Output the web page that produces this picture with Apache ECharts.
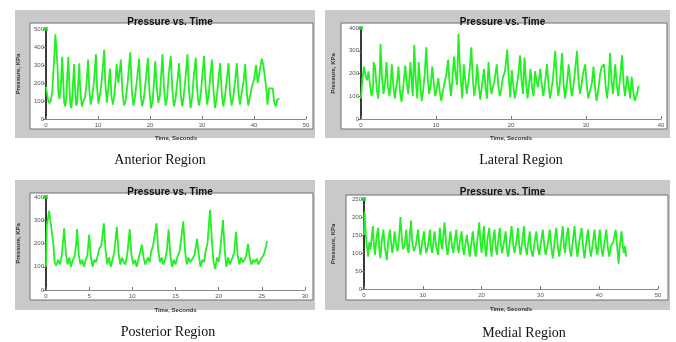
<!DOCTYPE html>
<html><head><meta charset="utf-8">
<script src="https://cdn.jsdelivr.net/npm/echarts@6/dist/echarts.min.js"></script>
<style>html,body{margin:0;padding:0;background:#fff}#c{width:676px;height:342px}</style>
</head><body><div id="c"></div>
<script>
// ---------- DATA ----------
const panelTitles = ['Pressure vs. Time','Pressure vs. Time','Pressure vs. Time','Pressure vs. Time'];
const regionNames = ['Anterior Region','Lateral Region','Posterior Region','Medial Region'];
const xAxisName = 'Time, Seconds';
const yAxisName = 'Pressure, KPa';
const xMax = [50, 40, 30, 50];
const xStep = [10, 10, 5, 10];
const yMax = [500, 400, 400, 250];
const yStep = [100, 100, 100, 50];
const topMarker = [[0,500],[0,400],[0,400],[0,250]];

const anterior = [[0,180],[0.3,120],[0.6,88],[0.9,100],[1.2,150],[1.5,300],[1.8,470],[2.0,480],[2.2,300],[2.4,140],[2.6,110],[2.9,200],[3.1,345],[3.3,220],[3.5,90],[3.7,70],[3.9,110],[4.1,250],[4.3,345],[4.5,180],[4.7,80],[4.9,60],[5.1,150],[5.4,305],[5.6,160],[5.8,75],[6.0,90],[6.2,200],[6.4,310],[6.6,150],[6.9,70],[7.2,100],[7.5,120],[7.8,200],[8.1,330],[8.3,170],[8.6,80],[8.9,130],[9.2,200],[9.6,360],[9.8,180],[10.1,85],[10.4,140],[10.7,210],[11.2,385],[11.4,200],[11.7,90],[12.0,180],[12.3,280],[12.6,120],[12.9,80],[13.2,150],[13.6,305],[13.9,200],[14.1,250],[14.4,330],[14.7,150],[15.0,75],[15.3,100],[15.7,200],[16.2,370],[16.5,160],[16.8,75],[17.1,120],[17.5,220],[17.9,335],[18.2,140],[18.5,70],[18.8,110],[19.2,220],[19.6,340],[19.9,150],[20.2,60],[20.5,100],[20.8,220],[21.0,320],[21.3,180],[21.6,90],[21.9,130],[22.4,360],[22.7,170],[23.0,75],[23.3,120],[23.6,250],[24.0,350],[24.3,160],[24.6,70],[24.9,110],[25.3,220],[25.6,310],[25.9,140],[26.2,70],[26.5,130],[26.9,250],[27.2,360],[27.5,160],[27.8,60],[28.1,120],[28.4,230],[28.8,340],[29.1,150],[29.4,75],[29.7,120],[30.1,250],[30.4,350],[30.7,170],[31.0,80],[31.3,140],[31.6,240],[31.9,330],[32.2,160],[32.5,60],[32.8,110],[33.2,230],[33.5,310],[33.8,140],[34.1,70],[34.4,120],[34.8,230],[35.1,310],[35.4,140],[35.7,75],[36.0,120],[36.4,220],[36.7,310],[37.0,150],[37.3,80],[37.6,140],[38.0,210],[38.3,305],[38.6,150],[38.9,75],[39.2,120],[39.6,180],[40.0,220],[40.4,300],[40.7,200],[41.0,210],[41.5,335],[41.8,300],[42.1,290],[42.4,160],[42.6,80],[42.9,170],[43.2,160],[43.6,170],[43.9,90],[44.2,70],[44.5,110],[44.9,110]];

const lateral = [[0,90],[0.2,180],[0.4,230],[0.6,190],[0.8,170],[1.0,210],[1.2,150],[1.4,100],[1.6,140],[1.7,250],[1.9,220],[2.1,130],[2.3,90],[2.5,200],[2.6,330],[2.8,180],[3.0,110],[3.2,160],[3.4,250],[3.6,140],[3.8,100],[4.0,180],[4.1,240],[4.3,150],[4.5,90],[4.7,140],[4.8,160],[5.0,230],[5.2,120],[5.4,75],[5.6,130],[5.9,235],[6.1,160],[6.3,110],[6.6,250],[6.8,140],[6.9,100],[7.1,325],[7.3,170],[7.5,90],[7.7,250],[7.9,150],[8.1,80],[8.3,130],[8.5,200],[8.7,315],[8.9,180],[9.1,110],[9.3,150],[9.5,230],[9.7,160],[9.9,100],[10.1,130],[10.3,180],[10.5,120],[10.7,80],[10.9,120],[11.2,170],[11.4,200],[11.6,260],[11.8,160],[12.0,100],[12.2,180],[12.4,275],[12.6,200],[12.8,150],[13.0,375],[13.2,220],[13.4,130],[13.5,90],[13.7,240],[13.9,170],[14.1,110],[14.3,160],[14.5,220],[14.7,315],[14.9,180],[15.1,100],[15.3,150],[15.5,240],[15.7,150],[15.9,85],[16.1,140],[16.4,220],[16.6,140],[16.8,90],[17.0,250],[17.2,160],[17.4,110],[17.6,140],[17.8,170],[18.1,240],[18.3,150],[18.5,100],[18.7,130],[18.9,180],[19.2,210],[19.5,305],[19.7,180],[19.9,95],[20.1,215],[20.3,150],[20.5,90],[20.7,130],[21.0,200],[21.2,280],[21.4,170],[21.6,110],[21.8,270],[22.0,160],[22.2,90],[22.4,150],[22.6,220],[22.8,140],[23.0,100],[23.2,210],[23.4,170],[23.6,140],[23.9,220],[24.1,150],[24.3,100],[24.5,150],[24.8,240],[25.0,150],[25.2,90],[25.4,130],[25.6,180],[25.9,300],[26.1,170],[26.3,100],[26.5,150],[26.8,290],[27.0,160],[27.2,90],[27.4,140],[27.7,240],[27.9,160],[28.1,100],[28.3,140],[28.5,200],[28.8,300],[29.0,170],[29.2,110],[29.4,150],[29.6,200],[29.9,240],[30.1,150],[30.3,90],[30.5,120],[30.8,160],[31.0,230],[31.2,140],[31.4,80],[31.6,120],[31.9,200],[32.1,230],[32.4,240],[32.6,150],[32.8,90],[33.0,150],[33.2,290],[33.4,170],[33.6,110],[33.9,240],[34.1,150],[34.3,100],[34.6,200],[34.8,280],[35.0,160],[35.2,100],[35.5,190],[35.7,140],[35.9,90],[36.1,185],[36.3,120],[36.5,80],[36.8,110],[37.0,145]];

const posterior = [[0,100],[0.1,280],[0.2,300],[0.35,340],[0.5,300],[0.7,295],[0.85,200],[1.0,120],[1.2,105],[1.4,130],[1.6,110],[1.8,140],[2.0,220],[2.1,265],[2.3,160],[2.5,110],[2.7,140],[2.9,100],[3.1,130],[3.3,140],[3.5,200],[3.6,262],[3.8,150],[4.0,110],[4.2,130],[4.4,100],[4.6,130],[4.8,150],[5.0,238],[5.2,140],[5.4,100],[5.6,130],[5.8,120],[6.0,150],[6.2,180],[6.4,190],[6.7,287],[6.9,170],[7.1,110],[7.3,140],[7.5,100],[7.7,130],[7.9,160],[8.2,272],[8.4,160],[8.6,110],[8.8,140],[9.0,120],[9.2,110],[9.4,150],[9.7,262],[9.9,150],[10.1,110],[10.3,130],[10.5,100],[10.7,130],[10.9,160],[11.1,195],[11.3,140],[11.5,110],[11.8,140],[12.0,120],[12.2,170],[12.4,190],[12.8,287],[13.0,170],[13.2,120],[13.4,140],[13.6,110],[13.8,130],[14.0,170],[14.2,260],[14.4,150],[14.6,100],[14.8,130],[15.0,110],[15.2,140],[15.5,170],[15.9,295],[16.1,170],[16.3,110],[16.5,140],[16.7,120],[16.9,130],[17.2,150],[17.5,220],[17.7,150],[17.9,100],[18.1,130],[18.3,120],[18.5,170],[18.7,200],[19.0,345],[19.2,220],[19.4,120],[19.6,90],[19.8,140],[20.0,120],[20.2,180],[20.5,302],[20.7,170],[20.9,100],[21.1,140],[21.3,110],[21.5,130],[21.8,160],[22.0,250],[22.2,150],[22.4,110],[22.6,140],[22.8,120],[23.0,130],[23.2,150],[23.4,198],[23.6,140],[23.8,110],[24.0,130],[24.2,120],[24.4,135],[24.6,110],[24.8,125],[25.0,140],[25.2,150],[25.4,175],[25.6,210]];

const medial = [[0,150],[0.1,215],[0.3,150],[0.5,120],[0.7,90],[0.9,130],[1.1,110],[1.3,140],[1.5,175],[1.7,120],[1.9,95],[2.1,140],[2.4,170],[2.6,110],[2.8,85],[3.0,130],[3.3,165],[3.5,120],[3.7,100],[3.9,80],[4.1,130],[4.4,165],[4.6,130],[4.8,100],[5.0,120],[5.2,160],[5.5,120],[5.7,105],[5.9,130],[6.2,200],[6.4,150],[6.6,110],[6.9,120],[7.2,165],[7.4,110],[7.6,100],[7.8,150],[8.0,190],[8.2,130],[8.5,105],[8.8,120],[9.2,165],[9.4,120],[9.6,95],[9.9,130],[10.2,160],[10.4,120],[10.6,100],[10.9,120],[11.2,165],[11.4,120],[11.6,100],[11.8,130],[12.0,160],[12.3,115],[12.6,95],[12.9,170],[13.1,130],[13.3,110],[13.5,150],[13.7,185],[14.0,120],[14.2,95],[14.4,120],[14.7,160],[15.0,115],[15.2,100],[15.4,130],[15.7,165],[15.9,120],[16.1,100],[16.3,130],[16.6,160],[16.8,115],[17.0,95],[17.2,120],[17.5,150],[17.8,110],[18.0,90],[18.2,120],[18.5,160],[18.8,110],[19.0,90],[19.3,140],[19.6,185],[19.8,130],[20.0,100],[20.2,140],[20.4,175],[20.6,110],[20.8,90],[21.0,140],[21.3,170],[21.5,120],[21.7,90],[21.9,130],[22.2,165],[22.4,115],[22.6,95],[22.8,130],[23.1,170],[23.3,120],[23.5,100],[23.8,130],[24.1,160],[24.3,110],[24.5,90],[24.8,130],[25.1,175],[25.4,120],[25.6,100],[25.9,130],[26.2,170],[26.4,120],[26.6,95],[26.9,130],[27.2,175],[27.4,120],[27.7,95],[27.9,125],[28.2,160],[28.4,110],[28.7,90],[29.0,130],[29.3,160],[29.6,110],[29.8,95],[30.1,130],[30.4,165],[30.7,115],[30.9,95],[31.2,120],[31.6,165],[31.9,110],[32.1,85],[32.4,130],[32.7,170],[33.0,110],[33.2,90],[33.5,130],[33.8,175],[34.0,120],[34.2,100],[34.4,140],[34.7,170],[35.0,110],[35.2,90],[35.5,130],[35.8,175],[36.1,115],[36.3,90],[36.6,130],[37.0,170],[37.3,110],[37.5,85],[37.8,130],[38.1,165],[38.4,110],[38.6,90],[38.9,125],[39.2,165],[39.5,110],[39.7,95],[39.9,130],[40.1,165],[40.4,110],[40.6,90],[40.9,130],[41.2,165],[41.5,110],[41.7,90],[42.0,120],[42.4,130],[42.8,165],[43.1,110],[43.3,70],[43.5,120],[43.8,160],[44.0,120],[44.2,100],[44.4,120],[44.6,90]];

const seriesData = [anterior, lateral, posterior, medial];

// ---------- LAYOUT ----------
const panels = [ // gray frame, white box, grid
  {frame:[15,10,300,128], box:[30,23,283,106], grid:{left:46, top:29, width:260, height:90}, label:[155,156]},
  {frame:[325,10,345,128], box:[341,23,326,106], grid:{left:361, top:28, width:300, height:91}, label:[516,156]},
  {frame:[15,180,300,130], box:[30,193,283,107], grid:{left:46, top:197, width:259, height:93}, label:[163,328]},
  {frame:[325,180,345,130], box:[346,195,322,105], grid:{left:364, top:199, width:294, height:90}, label:[519,329]}
];

const graphic = [];
panels.forEach(p => {
  graphic.push({type:'rect', z:-10, shape:{x:p.frame[0], y:p.frame[1], width:p.frame[2], height:p.frame[3]}, style:{fill:'#c9c9c9'}});
  graphic.push({type:'rect', z:-9, shape:{x:p.box[0], y:p.box[1], width:p.box[2], height:p.box[3]}, style:{fill:'#ffffff', stroke:'#6e6e6e', lineWidth:1}});
});

const title = [];
panels.forEach((p,i) => {
  title.push({text:panelTitles[i], left:p.frame[0]+p.frame[2]/2, top:p.frame[1]+2, textAlign:'center',
    textStyle:{fontFamily:'Liberation Sans, Arial', fontWeight:'bold', fontSize:10, color:'#111'}});
  title.push({text:regionNames[i], left:p.label[0], top:p.label[1]-8, textAlign:'center',
    textStyle:{fontFamily:'Liberation Serif, Times New Roman', fontWeight:'normal', fontSize:14, color:'#111'}});
});

const grid = panels.map(p => p.grid);
const xAxis = panels.map((p,i) => ({
  type:'value', gridIndex:i, min:0, max:xMax[i], interval:xStep[i],
  name:xAxisName, nameLocation:'middle', nameGap:i<2?16:17,
  nameTextStyle:{fontFamily:'Liberation Sans, Arial', fontWeight:'bold', fontSize:6, color:'#333'},
  axisLine:{show:true, onZero:false, lineStyle:{color:'#8a8a8a', width:1}},
  axisTick:{show:true, inside:true, length:3, lineStyle:{color:'#777'}},
  axisLabel:{fontSize:6, color:'#555', margin:3, fontFamily:'Liberation Sans, Arial'},
  splitLine:{show:false}
}));
const yAxis = panels.map((p,i) => ({
  type:'value', gridIndex:i, min:0, max:yMax[i], interval:yStep[i],
  name:yAxisName, nameLocation:'middle', nameGap:i===3?28:25, nameRotate:90,
  nameTextStyle:{fontFamily:'Liberation Sans, Arial', fontWeight:'bold', fontSize:6, color:'#333'},
  axisLine:{show:true, lineStyle:{color:'#3a3a3a', width:2}},
  axisTick:{show:true, length:3, lineStyle:{color:'#777'}},
  axisLabel:{fontSize:6, color:'#555', margin:2, fontFamily:'Liberation Sans, Arial'},
  splitLine:{show:false}
}));

const series = [];
seriesData.forEach((d,i) => {
  series.push({type:'line', xAxisIndex:i, yAxisIndex:i, data:d, showSymbol:false, symbol:'none',
    lineStyle:{color:'#22f022', width:1.8}, animation:false, z:3});
  series.push({type:'scatter', xAxisIndex:i, yAxisIndex:i, data:[topMarker[i]], symbol:'rect', symbolSize:4,
    itemStyle:{color:'#22e022'}, animation:false, z:4});
});

const chart = echarts.init(document.getElementById('c'), null, {renderer:'canvas'});
chart.setOption({animation:false, backgroundColor:'#fff', title, graphic, grid, xAxis, yAxis, series});
</script></body></html>
